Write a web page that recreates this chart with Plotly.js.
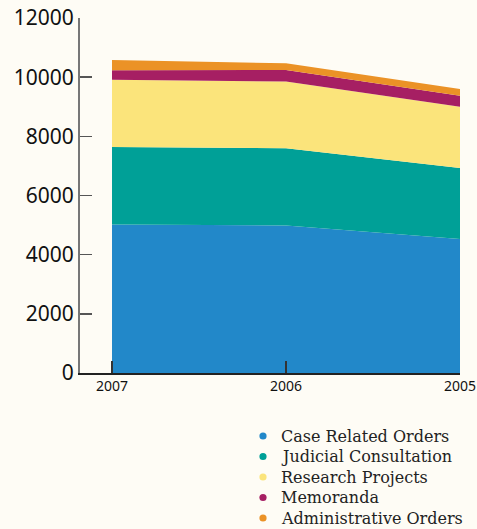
<!DOCTYPE html>
<html>
<head>
<meta charset="utf-8">
<script src="https://cdn.plot.ly/plotly-3.0.1.min.js"></script>
<style>
html,body{margin:0;padding:0;background:#FEFCF5;}
#chart{width:477px;height:529px;}
</style>
</head>
<body>
<div id="chart"></div>
<script>
const years = ["2007", "2006", "2005"];
const caseRelated = [5020, 4990, 4530];
const judicial = [2620, 2610, 2400];
const research = [2270, 2250, 2070];
const memoranda = [320, 390, 370];
const administrative = [350, 230, 230];

const seriesNames = ["Case Related Orders", "Judicial Consultation", "Research Projects", "Memoranda", "Administrative Orders"];
const seriesValues = [caseRelated, judicial, research, memoranda, administrative];
const colors = ["#2288C9", "#00A097", "#FBE47B", "#A61F63", "#EB9226"];

const W = 477, H = 529;
const M = {l: 80, r: 17, t: 18, b: 156};
const pw = W - M.l - M.r, ph = H - M.t - M.b;
const px2x = px => (px - M.l) / pw;
const py2y = py => (H - M.b - py) / ph;

const xs = years.map((y, i) => i);
const traces = [];
seriesValues.forEach((vals, k) => {
  traces.push({
    x: xs, y: vals, type: "scatter", mode: "lines", stackgroup: "one",
    line: {width: 0, color: colors[k]}, fillcolor: colors[k],
    name: seriesNames[k], showlegend: false, hoverinfo: "skip"
  });
});

// custom legend (dots + labels)
const legX = 263, legTextX = 280, legY0 = 436, legStep = 20.5, dotR = 3.6;
const shapes = [], annotations = [];
seriesNames.forEach((name, k) => {
  const cy = legY0 + k * legStep;
  shapes.push({
    type: "circle", xref: "paper", yref: "paper",
    x0: px2x(legX - dotR), x1: px2x(legX + dotR),
    y0: py2y(cy + dotR), y1: py2y(cy - dotR),
    fillcolor: colors[k], line: {width: 0}
  });
  annotations.push({
    xref: "paper", yref: "paper", x: px2x(legTextX), y: py2y(cy),
    xanchor: "left", yanchor: "middle", showarrow: false, borderpad: 0,
    text: name, font: {family: "DejaVu Serif", size: 16, color: "#222"}
  });
});

const layout = {
  width: W, height: H,
  paper_bgcolor: "#FEFCF5", plot_bgcolor: "#FEFCF5",
  margin: {l: M.l, r: M.r, t: M.t, b: M.b, autoexpand: false},
  showlegend: false,
  shapes: shapes,
  annotations: annotations,
  xaxis: {
    range: [-0.184, 2], tickvals: xs, ticktext: years,
    showgrid: false, zeroline: false, showline: true, linecolor: "#222", linewidth: 1.5,
    ticks: "inside", ticklen: 12, tickcolor: "#333", tickwidth: 1.5,
    tickfont: {family: "Noto Sans", size: 14, color: "#111"}
  },
  yaxis: {
    range: [0, 12000], tickvals: [0, 2000, 4000, 6000, 8000, 10000, 12000],
    ticktext: ["0", "2000", "4000", "6000", "8000", "10000", "12000"],
    showgrid: false, zeroline: false, showline: true, linecolor: "#777", linewidth: 2,
    ticks: "inside", ticklen: 12, tickcolor: "#555", tickwidth: 1.5,
    tickfont: {family: "Noto Sans", size: 21, color: "#111"}
  }
};
Plotly.newPlot("chart", traces, layout, {displayModeBar: false, staticPlot: true});
</script>
</body>
</html>
